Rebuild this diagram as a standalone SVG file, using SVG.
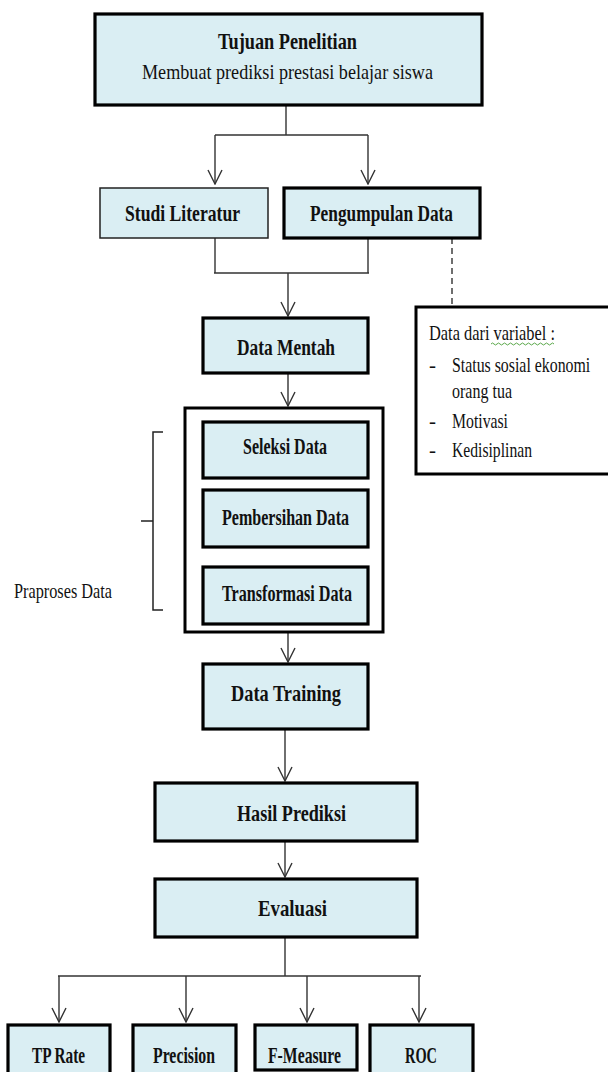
<svg xmlns="http://www.w3.org/2000/svg" width="608" height="1072" viewBox="0 0 608 1072">
<style>
.box{fill:#DAEEF3;stroke:#000;stroke-width:3.2}
.thin{fill:#DAEEF3;stroke:#222;stroke-width:1.5}
.frame{fill:#fff;stroke:#000;stroke-width:3}
.b{font-family:"Liberation Serif","Times New Roman",serif;font-weight:bold;font-size:24px;fill:#111;text-anchor:middle}
.r{font-family:"Liberation Serif","Times New Roman",serif;font-size:21px;fill:#111}
.c{fill:none;stroke:#333;stroke-width:1.4}
</style>
<defs>
<marker id="arr" markerUnits="userSpaceOnUse" markerWidth="16" markerHeight="16" refX="15" refY="7" orient="auto" viewBox="0 0 16 14">
<path d="M1,0 L15,7 L1,14" fill="none" stroke="#333" stroke-width="1.4"/>
</marker>
</defs>
<rect width="608" height="1072" fill="#fff"/>

<g id="connectors">
<path class="c" d="M286,105 V135 M215,135 H368"/>
<path class="c" d="M215,135 V184" marker-end="url(#arr)"/>
<path class="c" d="M368,135 V184" marker-end="url(#arr)"/>
<path class="c" d="M215,238 V273 M368,238 V273 M214,273 H369"/>
<path class="c" d="M288,273 V316" marker-end="url(#arr)"/>
<path class="c" d="M288,373 V406" marker-end="url(#arr)"/>
<path class="c" d="M288,632 V662" marker-end="url(#arr)"/>
<path class="c" d="M285,729 V781" marker-end="url(#arr)"/>
<path class="c" d="M285,841 V877" marker-end="url(#arr)"/>
<path class="c" d="M285,937 V976"/>
<path class="c" d="M58,976 H421" stroke-width="2" stroke="#555"/>
<path class="c" d="M59,976 V1022" marker-end="url(#arr)"/>
<path class="c" d="M186,976 V1022" marker-end="url(#arr)"/>
<path class="c" d="M307,976 V1022" marker-end="url(#arr)"/>
<path class="c" d="M419,976 V1022" marker-end="url(#arr)"/>
<path class="c" d="M452,238 V305" stroke="#111" stroke-dasharray="6,4"/>
</g>

<g id="tujuan">
<rect class="box" x="95" y="14" width="387" height="91"/>
<text class="b" x="287.5" y="49" font-size="19" textLength="139" lengthAdjust="spacingAndGlyphs">Tujuan Penelitian</text>
<text class="r" x="287.5" y="79" font-size="20" text-anchor="middle" textLength="291" lengthAdjust="spacingAndGlyphs">Membuat prediksi prestasi belajar siswa</text>
</g>

<g id="studi">
<rect class="thin" x="100" y="188" width="168" height="50"/>
<text class="b" x="182.5" y="221" textLength="115" lengthAdjust="spacingAndGlyphs">Studi Literatur</text>
</g>

<g id="pengumpulan">
<rect class="box" x="284" y="188" width="196" height="50"/>
<text class="b" x="381.5" y="221" textLength="143" lengthAdjust="spacingAndGlyphs">Pengumpulan Data</text>
</g>

<g id="variabel">
<rect class="frame" x="416" y="307" width="210" height="167"/>
<text class="r" x="429" y="340" textLength="126" lengthAdjust="spacingAndGlyphs">Data dari variabel :</text>
<path d="M491,344 q1.5,-2 3,0 t3,0 t3,0 t3,0 t3,0 t3,0 t3,0 t3,0 t3,0 t3,0 t3,0 t3,0 t3,0 t3,0 t3,0 t3,0 t3,0 t3,0 t3,0 t3,0 t3,0" fill="none" stroke="#5aa84a" stroke-width="1"/>
<text class="r" x="429" y="372">-</text>
<text class="r" transform="translate(452,372) scale(0.755,1)">Status sosial ekonomi</text>
<text class="r" x="452" y="398" textLength="60" lengthAdjust="spacingAndGlyphs">orang tua</text>
<text class="r" x="429" y="428">-</text>
<text class="r" x="452" y="428" textLength="56" lengthAdjust="spacingAndGlyphs">Motivasi</text>
<text class="r" x="429" y="457">-</text>
<text class="r" x="452" y="457" textLength="80" lengthAdjust="spacingAndGlyphs">Kedisiplinan</text>
</g>

<g id="data-mentah">
<rect class="box" x="203" y="318" width="165" height="55"/>
<text class="b" x="286" y="355" textLength="98" lengthAdjust="spacingAndGlyphs">Data Mentah</text>
</g>

<g id="praproses">
<rect class="frame" x="185" y="408" width="198" height="224"/>
<path d="M163,432 H153 V610 H163 M141,521 H153" fill="none" stroke="#222" stroke-width="1.5"/>
<text class="r" x="14" y="598" font-size="22" textLength="98" lengthAdjust="spacingAndGlyphs">Praproses Data</text>
</g>

<g id="seleksi">
<rect class="box" x="203" y="422" width="165" height="56"/>
<text class="b" x="285" y="454" textLength="84" lengthAdjust="spacingAndGlyphs">Seleksi Data</text>
</g>

<g id="pembersihan">
<rect class="box" x="203" y="490" width="165" height="57"/>
<text class="b" x="285.5" y="525" textLength="127" lengthAdjust="spacingAndGlyphs">Pembersihan Data</text>
</g>

<g id="transformasi">
<rect class="box" x="203" y="567" width="165" height="57"/>
<text class="b" x="287" y="601" textLength="130" lengthAdjust="spacingAndGlyphs">Transformasi Data</text>
</g>

<g id="data-training">
<rect class="box" x="203" y="664" width="165" height="65"/>
<text class="b" x="286" y="701" textLength="110" lengthAdjust="spacingAndGlyphs">Data Training</text>
</g>

<g id="hasil-prediksi">
<rect class="box" x="155" y="783" width="262" height="58"/>
<text class="b" x="291.5" y="821" textLength="109" lengthAdjust="spacingAndGlyphs">Hasil Prediksi</text>
</g>

<g id="evaluasi">
<rect class="box" x="155" y="879" width="262" height="58"/>
<text class="b" x="292.5" y="916" textLength="69" lengthAdjust="spacingAndGlyphs">Evaluasi</text>
</g>

<g id="tp-rate">
<rect class="box" x="8" y="1025" width="102" height="60"/>
<text class="b" x="58.5" y="1063" textLength="53" lengthAdjust="spacingAndGlyphs">TP Rate</text>
</g>

<g id="precision">
<rect class="box" x="133" y="1025" width="103" height="60"/>
<text class="b" x="184" y="1063" textLength="62" lengthAdjust="spacingAndGlyphs">Precision</text>
</g>

<g id="f-measure">
<rect class="box" x="255" y="1025" width="102" height="45"/>
<text class="b" x="304.5" y="1063" textLength="73" lengthAdjust="spacingAndGlyphs">F-Measure</text>
</g>

<g id="roc">
<rect class="box" x="370" y="1025" width="103" height="60"/>
<text class="b" x="421" y="1063" textLength="32" lengthAdjust="spacingAndGlyphs">ROC</text>
</g>
</svg>
